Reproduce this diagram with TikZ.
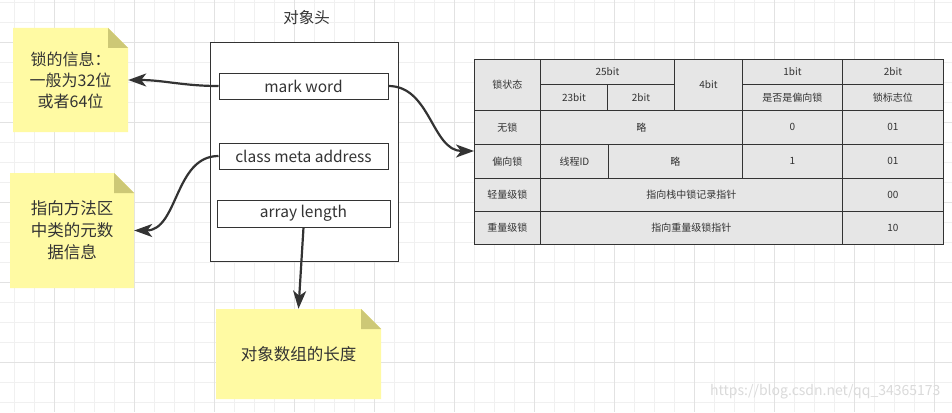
\documentclass[tikz,border=0pt]{standalone}
\usepackage{fontspec}
\setmainfont{Noto Sans CJK SC}
\usetikzlibrary{arrows.meta,calc}
\definecolor{ink}{HTML}{333333}
\definecolor{gridminor}{HTML}{F0F0F0}
\definecolor{gridmajor}{HTML}{E2E2E2}
\definecolor{notefill}{HTML}{FFFAA3}
\definecolor{notefold}{HTML}{CDC876}
\definecolor{cellfill}{HTML}{E6E6E6}
\definecolor{wm}{HTML}{DADADA}
\newcommand\notebox[5]{%
  \fill[notefill] (#1,#2) -- (#3-#5,#2) -- (#3,#2+#5) -- (#3,#4) -- (#1,#4) -- cycle;
  \fill[notefold] (#3-#5,#2) -- (#3-#5,#2+#5) -- (#3,#2+#5) -- cycle;}
\newcommand\tcell[6]{\node[tcellbox, minimum width=#3pt, minimum height=#4pt] (#5) at (#1,#2) {#6};}
\begin{document}
\begin{tikzpicture}[x=1pt,y=-1pt,
  boxlabel/.style={draw=ink, line width=1pt, fill=white, text=ink, inner sep=0pt,
    font=\fontsize{15.5}{18}\selectfont},
  notetext/.style={inner sep=0pt, align=center, text=ink, font=\fontsize{16}{21}\selectfont},
  tcellbox/.style={draw=ink, line width=0.8pt, fill=cellfill, text=ink, inner sep=0pt,
    anchor=north west, font=\fontsize{10}{12}\selectfont},
  conn/.style={draw=ink, line width=2.2pt, -{Stealth[length=18pt,width=13pt,inset=5pt]}}]
\useasboundingbox (0,0) rectangle (952,412);
\fill[white] (0,0) rectangle (952,412);
% grid
\foreach \x in {14,34,...,954} \draw[gridminor, line width=0.8pt] (\x,0) -- (\x,412);
\foreach \y in {2,22,...,412} \draw[gridminor, line width=0.8pt] (0,\y) -- (952,\y);
\foreach \x in {54,134,...,934} \draw[gridmajor, line width=0.8pt] (\x,0) -- (\x,412);
\foreach \y in {42,122,...,402} \draw[gridmajor, line width=0.8pt] (0,\y) -- (952,\y);

% object header
\node[text=ink, font=\fontsize{15.5}{18}\selectfont] (title) at (306.5,18) {对象头};
\node[draw=ink, line width=1pt, fill=white, minimum width=188pt, minimum height=218pt, inner sep=0pt] (obj) at (304,152) {};
\node[boxlabel, minimum width=169pt, minimum height=26pt] (mw) at (303.5,86) {mark word};
\node[boxlabel, minimum width=169pt, minimum height=26pt] (cm) at (303.5,156) {class meta address};
\node[boxlabel, minimum width=173pt, minimum height=27pt] (al) at (303.5,213.5) {array length};

% notes
\notebox{13}{28}{128}{132}{20}
\notebox{10}{173}{134}{288}{20}
\notebox{216}{309}{381}{399}{20}
\node[notetext, minimum width=115pt, minimum height=104pt] (n1) at (70.5,80) {锁的信息：\\一般为32位\\或者64位};
\node[notetext, minimum width=124pt, minimum height=115pt, font=\fontsize{16.5}{22}\selectfont] (n2) at (72,230.5) {指向方法区\\中类的元数\\据信息};
\node[notetext, minimum width=165pt, minimum height=90pt, font=\fontsize{16.5}{20}\selectfont] (n3) at (298.5,354) {对象数组的长度};

% table
\tcell{474}{59}{66}{51}{h1}{锁状态}
\tcell{540}{59}{134}{25}{h2}{25bit}
\tcell{540}{84}{67}{26}{h3}{23bit}
\tcell{607}{84}{67}{26}{h4}{2bit}
\tcell{674}{59}{68}{51}{h5}{4bit}
\tcell{742}{59}{100}{25}{h6}{1bit}
\tcell{742}{84}{100}{26}{h7}{是否是偏向锁}
\tcell{842}{59}{101}{25}{h8}{2bit}
\tcell{842}{84}{101}{26}{h9}{锁标志位}
\tcell{474}{110}{66}{34}{a1}{无锁}
\tcell{540}{110}{202}{34}{a2}{略}
\tcell{742}{110}{100}{34}{a3}{0}
\tcell{842}{110}{101}{34}{a4}{01}
\tcell{474}{144}{66}{34}{b1}{偏向锁}
\tcell{540}{144}{68}{34}{b2}{线程ID}
\tcell{608}{144}{134}{34}{b3}{略}
\tcell{742}{144}{100}{34}{b4}{1}
\tcell{842}{144}{101}{34}{b5}{01}
\tcell{474}{178}{66}{33}{c1}{轻量级锁}
\tcell{540}{178}{302}{33}{c2}{指向栈中锁记录指针}
\tcell{842}{178}{101}{33}{c3}{00}
\tcell{474}{211}{66}{33}{d1}{重量级锁}
\tcell{540}{211}{302}{33}{d2}{指向重量级锁指针}
\tcell{842}{211}{101}{33}{d3}{10}
\node[draw=ink, line width=1.3pt, minimum width=469pt, minimum height=185pt, inner sep=0pt, anchor=north west] (tbl) at (474,59) {};
\coordinate (tblin) at (474,151);

% connectors
\draw[conn] (mw.west) to[out=180,in=0] (n1.east);
\draw[conn] (cm.west) to[out=180,in=0] (n2.east);
\draw[conn] (al.south) -- (n3.north);
\draw[conn] (mw.east) to[out=0,in=180] (tblin);

% watermark
\node[text=wm, font=\fontsize{14}{16}\selectfont, anchor=east] (wmark) at (944,392) {https://blog.csdn.net/qq\_34365173};
\end{tikzpicture}
\end{document}
